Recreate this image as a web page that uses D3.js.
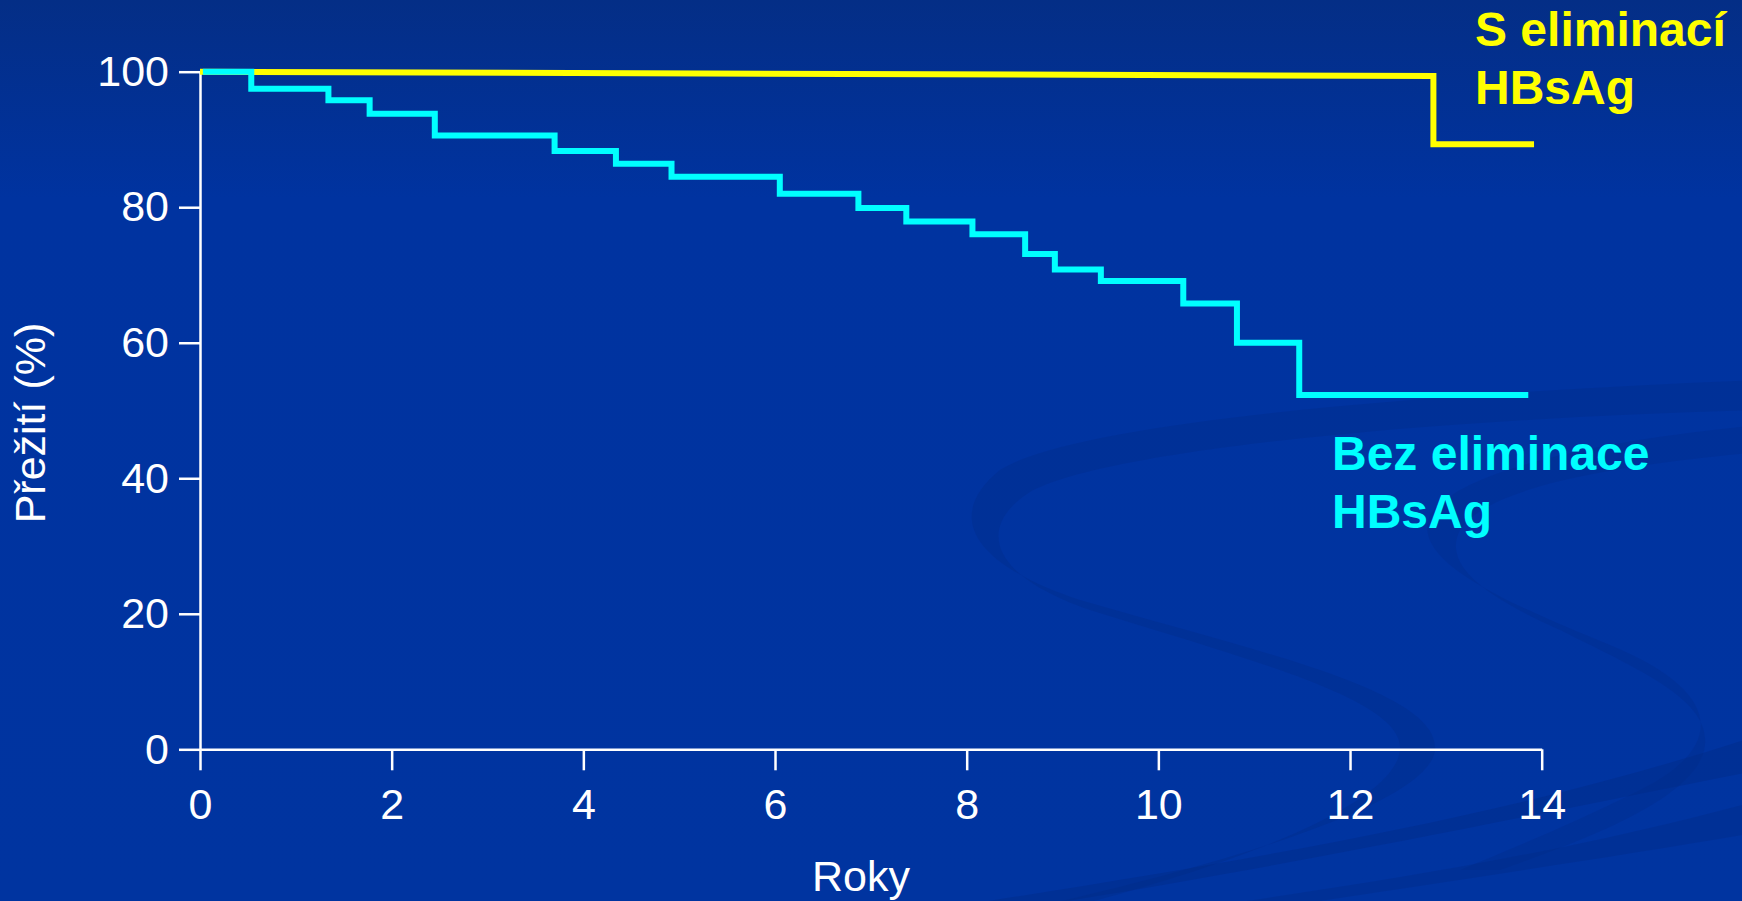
<!DOCTYPE html>
<html>
<head>
<meta charset="utf-8">
<script src="https://cdn.jsdelivr.net/npm/d3@7"></script>
<style>
  html, body { margin: 0; padding: 0; background: #0033a0; }
  svg { display: block; }
  text { font-family: Arial, "Liberation Sans", sans-serif; }
</style>
</head>
<body>
<svg id="chart" width="1742" height="901"></svg>
<script>
// Kaplan–Meier survival, years of follow-up
const xTicks = [0, 2, 4, 6, 8, 10, 12, 14];
const yTicks = [0, 20, 40, 60, 80, 100];

// Group with HBsAg clearance (vertices of the curve)
const clearedYears = [0, 12.87, 12.87, 13.92];
const clearedSurvival = [100, 99.35, 89.3, 89.3];

// Group without HBsAg clearance (step changes)
const persistYears = [0.03, 0.535, 1.34, 1.77, 2.45, 3.70, 4.34, 4.92, 6.05, 6.87, 7.37, 8.06, 8.61, 8.92, 9.40, 10.26, 10.82, 11.47, 13.86];
const persistSurvival = [100, 97.5, 95.8, 93.8, 90.6, 88.3, 86.4, 84.5, 82.0, 79.9, 77.9, 76.0, 73.1, 70.8, 69.1, 65.8, 60.0, 52.3, 52.3];

const clearedLabel = ["S eliminací", "HBsAg"];
const persistLabel = ["Bez eliminace", "HBsAg"];
const xTitle = "Roky";
const yTitle = "Přežití (%)";

const svg = d3.select("#chart");
const W = 1742, H = 901;

// slide background
const defs = svg.append("defs");
const grad = defs.append("linearGradient").attr("id", "bg")
  .attr("x1", 0).attr("y1", 0).attr("x2", 0).attr("y2", 1);
grad.append("stop").attr("offset", "0").attr("stop-color", "#042e86");
grad.append("stop").attr("offset", "0.22").attr("stop-color", "#0033a0");
grad.append("stop").attr("offset", "1").attr("stop-color", "#0034a0");
svg.append("rect").attr("width", W).attr("height", H).attr("fill", "url(#bg)");

// decorative ribbons of the slide template (filled, tapering bands)
const deco = svg.append("g").attr("stroke", "none");
deco.append("path")
  .attr("d", "M1760,380 C1450,392 1080,420 1000,470 C950,510 960,560 1080,600 C1250,650 1440,690 1435,750 C1430,800 1250,860 1000,915 L1040,915 C1260,860 1395,800 1400,750 C1405,700 1250,660 1090,610 C975,570 985,520 1030,492 C1110,448 1450,418 1760,410 Z")
  .attr("fill", "#012c88").attr("fill-opacity", 0.38);
deco.append("path")
  .attr("d", "M1760,425 C1600,440 1460,470 1430,515 C1410,560 1500,600 1610,645 C1720,690 1730,745 1640,790 C1570,825 1520,845 1460,870 L1500,870 C1570,845 1700,800 1705,745 C1710,700 1640,670 1560,630 C1470,590 1445,560 1460,530 C1490,485 1620,465 1760,452 Z")
  .attr("fill", "#012c88").attr("fill-opacity", 0.32);
deco.append("path")
  .attr("d", "M1760,735 C1500,820 1250,860 900,915 L980,915 C1300,865 1530,815 1760,770 Z")
  .attr("fill", "#012a84").attr("fill-opacity", 0.4);
deco.append("path")
  .attr("d", "M1760,800 C1560,855 1360,885 1150,915 L1230,915 C1420,885 1600,860 1760,832 Z")
  .attr("fill", "#012a84").attr("fill-opacity", 0.35);

// scales
const x = d3.scaleLinear().domain([0, 14]).range([200, 1541.7]);
const y = d3.scaleLinear().domain([0, 100]).range([749.3, 71.7]);

// axes
const xAxis = svg.append("g")
  .attr("transform", `translate(0,${y(0)})`)
  .call(d3.axisBottom(x).tickValues(xTicks).tickSize(21).tickSizeOuter(0).tickPadding(18).tickFormat(d3.format("d")));
const yAxis = svg.append("g")
  .attr("transform", `translate(${x(0)},0)`)
  .call(d3.axisLeft(y).tickValues(yTicks).tickSize(21).tickSizeOuter(0).tickPadding(10).tickFormat(d3.format("d")));

[xAxis, yAxis].forEach(g => {
  g.select(".domain").attr("stroke", "#ffffff").attr("stroke-width", 2.5);
  g.selectAll(".tick line").attr("stroke", "#ffffff").attr("stroke-width", 2.5);
  g.selectAll(".tick text").attr("fill", "#ffffff")
    .style("font-size", "43px").style("font-family", "Arial, 'Liberation Sans', sans-serif");
});

// axis titles
svg.append("text")
  .attr("x", 861).attr("y", 891)
  .attr("text-anchor", "middle").attr("fill", "#ffffff")
  .style("font-size", "43px").text(xTitle);
svg.append("text")
  .attr("transform", "translate(45,423) rotate(-90)")
  .attr("text-anchor", "middle").attr("fill", "#ffffff")
  .style("font-size", "43px").text(yTitle);

// survival curves
const clearedPts = clearedYears.map((t, i) => [t, clearedSurvival[i]]);
const persistPts = persistYears.map((t, i) => [t, persistSurvival[i]]);

const linear = d3.line().x(d => x(d[0])).y(d => y(d[1])).curve(d3.curveLinear);
const steps = d3.line().x(d => x(d[0])).y(d => y(d[1])).curve(d3.curveStepAfter);

svg.append("path")
  .datum(clearedPts)
  .attr("d", linear)
  .attr("fill", "none").attr("stroke", "#ffff00")
  .attr("stroke-width", 6).attr("stroke-linejoin", "miter");

svg.append("path")
  .datum(persistPts)
  .attr("d", steps)
  .attr("fill", "none").attr("stroke", "#00ffff")
  .attr("stroke-width", 6).attr("stroke-linejoin", "miter");

// series labels
const lab1 = svg.append("text").attr("fill", "#ffff00")
  .style("font-size", "48px").style("font-weight", "bold");
clearedLabel.forEach((s, i) => lab1.append("tspan").attr("x", 1475).attr("y", 46 + i * 58).text(s));

const lab2 = svg.append("text").attr("fill", "#00ffff")
  .style("font-size", "48px").style("font-weight", "bold");
persistLabel.forEach((s, i) => lab2.append("tspan").attr("x", 1332).attr("y", 470 + i * 58).text(s));
</script>
</body>
</html>
